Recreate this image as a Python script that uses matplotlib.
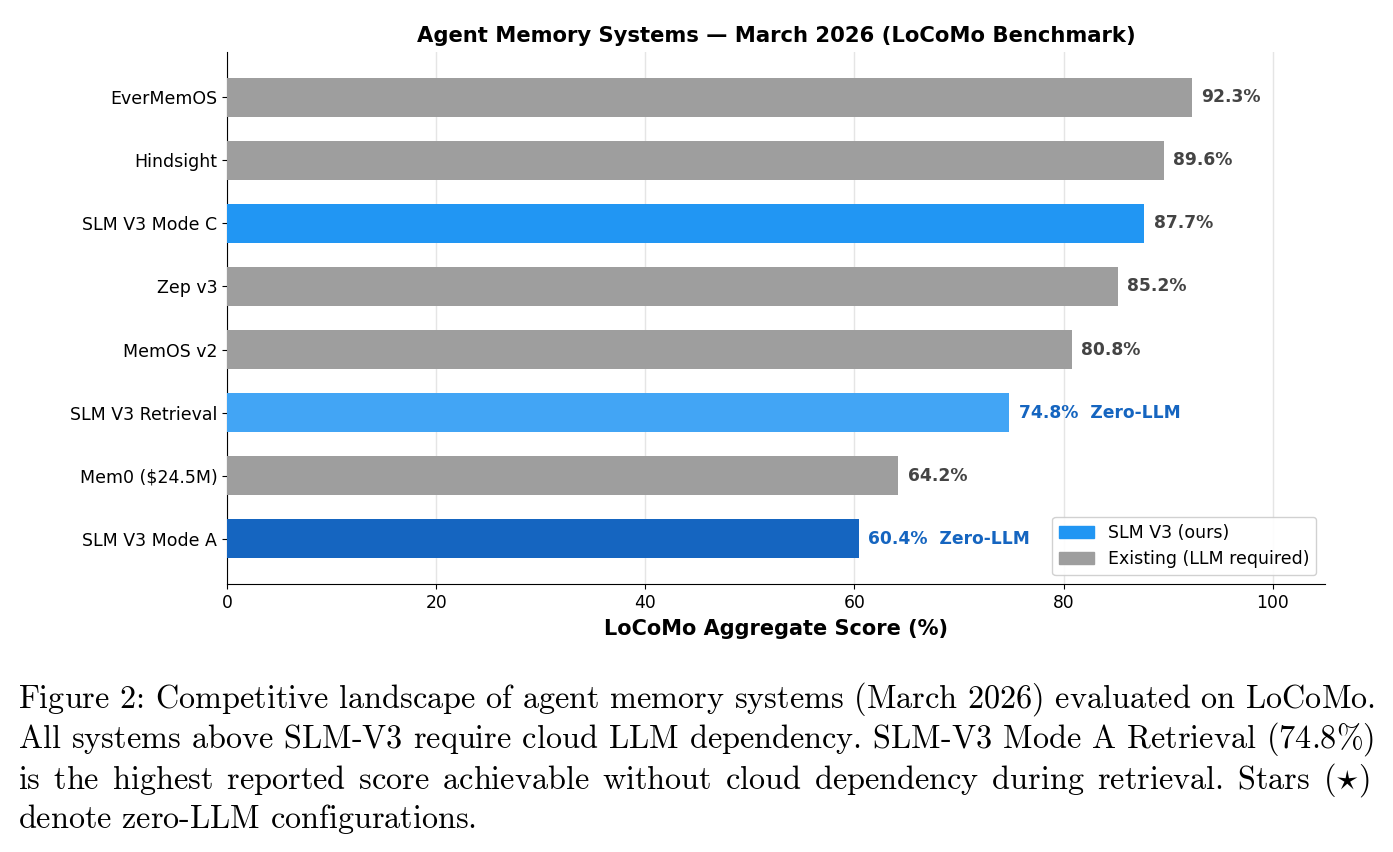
import matplotlib
matplotlib.use("Agg")
import matplotlib.pyplot as plt
from matplotlib.patches import Patch

# Dữ liệu
systems = ["EverMemOS", "Hindsight", "SLM V3 Mode C", "Zep v3", "MemOS v2",
           "SLM V3 Retrieval", "Mem0 ($24.5M)", "SLM V3 Mode A"]
scores = [92.3, 89.6, 87.7, 85.2, 80.8, 74.8, 64.2, 60.4]
bar_colors = ["#9E9E9E", "#9E9E9E", "#2196F3", "#9E9E9E", "#9E9E9E",
              "#42A5F5", "#9E9E9E", "#1565C0"]
extra = ["", "", "", "", "", "  Zero-LLM", "", "  Zero-LLM"]
label_colors = ["#444444", "#444444", "#444444", "#444444", "#444444",
                "#1565C0", "#444444", "#1565C0"]
x_ticks = [0, 20, 40, 60, 80, 100]

caption_lines = [
    "Figure 2: Competitive landscape of agent memory systems (March 2026) evaluated on LoCoMo.",
    "All systems above SLM-V3 require cloud LLM dependency. SLM-V3 Mode A Retrieval (74.8%)",
    "is the highest reported score achievable without cloud dependency during retrieval. Stars ($\\star$)",
    "denote zero-LLM configurations.",
]

W, H = 1393, 852
plt.rcParams["mathtext.fontset"] = "cm"

fig = plt.figure(figsize=(W / 100, H / 100), dpi=100)
ax = fig.add_axes([227 / W, 1 - 584 / H, (1325 - 227) / W, (584 - 52) / H])

ypos = list(range(len(systems)))[::-1]
ax.barh(ypos, scores, height=0.62, color=bar_colors, zorder=3)

for y, s, e, c in zip(ypos, scores, extra, label_colors):
    ax.text(s + 0.9, y, f"{s:.1f}%{e}", va="center", ha="left",
            fontsize=12.3, fontweight="bold", color=c, zorder=4)

ax.set_yticks(ypos)
ax.set_yticklabels(systems, fontsize=12.5)
ax.set_xticks(x_ticks)
ax.set_xticklabels([str(t) for t in x_ticks], fontsize=12.3)
ax.set_xlim(0, 105)
ax.set_ylim(-0.715, 7.715)
ax.grid(axis="x", color="#E5E5E5", linewidth=1, zorder=0)
ax.spines["top"].set_visible(False)
ax.spines["right"].set_visible(False)
ax.set_xlabel("LoCoMo Aggregate Score (%)", fontsize=15, fontweight="bold", labelpad=5)
ax.set_title("Agent Memory Systems — March 2026 (LoCoMo Benchmark)",
             fontsize=15.2, fontweight="bold", pad=7)

handles = [Patch(color="#2196F3", label="SLM V3 (ours)"),
           Patch(color="#9E9E9E", label="Existing (LLM required)")]
ax.legend(handles=handles, loc="lower right", fontsize=12.5, framealpha=0.9)

# Chú thích kiểu LaTeX: mỗi dòng là một chuỗi mathtext,
# căn đều hai bên bằng \hspace giữa các từ (trừ dòng cuối)
renderer = fig.canvas.get_renderer()
cap_kw = dict(family="cmr10", fontsize=23.2, va="baseline", ha="left")
em_px = 23.2 * 100 / 72
x_left, x_right = 18, 1375
baselines = [708, 748, 789, 828]


def width_of(s):
    t = fig.text(0, 0, s, **cap_kw)
    w = t.get_window_extent(renderer).width
    t.remove()
    return w


try:
    width_of(r"a$\hspace{0.5}$ b")
    has_hspace = True
except Exception:
    has_hspace = False


def build(words, e):
    if has_hspace:
        return f"$\\hspace{{{e:.4f}}}$ ".join(words)
    return " ".join(words) + r"$\,$"


for i, (line, yb) in enumerate(zip(caption_lines, baselines)):
    words = line.split(" ")
    e = 0.0
    if has_hspace and i < len(caption_lines) - 1:
        nat = width_of(build(words, 0.0))
        e = (x_right - x_left - nat) / (len(words) - 1) / em_px
    fig.text(x_left / W, 1 - yb / H, build(words, e), **cap_kw)

fig.savefig("out.png", dpi=100)
